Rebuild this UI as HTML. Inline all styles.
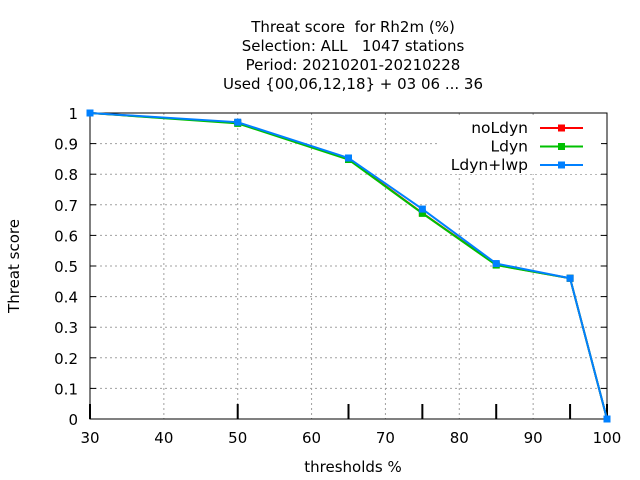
<!DOCTYPE html>
<html><head><meta charset="utf-8"><style>
body{margin:0;background:#fff}
svg{display:block;font-family:"DejaVu Sans","Liberation Sans",sans-serif}
text{white-space:pre}
</style></head><body>
<svg width="640" height="480">
<g font-size="15" text-anchor="middle" fill="#000">
<text x="353" y="32" xml:space="preserve">Threat score  for Rh2m (%)</text>
<text x="353" y="51" xml:space="preserve">Selection: ALL   1047 stations</text>
<text x="353" y="70">Period: 20210201-20210228</text>
<text x="353" y="89">Used {00,06,12,18} + 03 06 ... 36</text>
</g>
<g id="grid"></g>
<rect x="440" y="116" width="165" height="58" fill="#fff"/>
<g id="axes"></g>
<g id="series"></g>
<g id="legend"></g>
<text x="353" y="472" font-size="15" text-anchor="middle">thresholds %</text>
<text x="19" y="266" font-size="15" text-anchor="middle" transform="rotate(-90 19 266)">Threat score</text>
</svg>
<script>
const thresholds=[30,50,65,75,85,95,100];
const noLdyn=[1,0.968,0.85,0.673,0.504,0.46,0];
const ldyn=[1,0.966,0.848,0.672,0.503,0.46,0];
const ldynLwp=[1,0.97,0.853,0.686,0.508,0.46,0];
const xTicks=[30,40,50,60,70,80,90,100];
const yTicks=[0,0.1,0.2,0.3,0.4,0.5,0.6,0.7,0.8,0.9,1];
const seriesNames=["noLdyn","Ldyn","Ldyn+lwp"];
const L=90,R=607,T=113,B=419;
const X=v=>L+(v-30)/70*(R-L), Y=v=>B-v*(B-T);
const NS="http://www.w3.org/2000/svg";
function mk(p,t,a){const e=document.createElementNS(NS,t);for(const k in a)e.setAttribute(k,a[k]);p.appendChild(e);return e;}
const grid=document.getElementById('grid'),axes=document.getElementById('axes');
xTicks.forEach(v=>{
 if(v>30&&v<100){const g=mk(grid,'line',{x1:X(v),x2:X(v),y1:T,y2:B,stroke:'#a0a0a0','stroke-dasharray':'2,3','stroke-width':1});
 }
 const t=mk(axes,'text',{x:X(v),y:B+24,'font-size':15,'text-anchor':'middle'});t.textContent=v;
 
});
yTicks.forEach(v=>{
 if(v>0&&v<1){const g=mk(grid,'line',{x1:L,x2:R,y1:Y(v),y2:Y(v),stroke:'#a0a0a0','stroke-dasharray':'2,3','stroke-width':1});
 }
 mk(axes,'line',{x1:L,x2:L+6,y1:Y(v),y2:Y(v),stroke:'#000'});
 mk(axes,'line',{x1:R,x2:R-6,y1:Y(v),y2:Y(v),stroke:'#000'});
 const t=mk(axes,'text',{x:L-12,y:Y(v)+6,'font-size':15,'text-anchor':'end'});t.textContent=v;
 
});
thresholds.forEach(v=>{mk(axes,'line',{x1:X(v),x2:X(v),y1:B,y2:B-15,stroke:'#000','stroke-width':2});});
const f=mk(axes,'rect',{x:L,y:T,width:R-L,height:B-T,fill:'none',stroke:'#000'});

const data=[noLdyn,ldyn,ldynLwp],cols=['#ff0000','#00c000','#0080ff'];
const ser=document.getElementById('series'),leg=document.getElementById('legend');
data.forEach((d,i)=>{
 const pl=mk(ser,'polyline',{points:d.map((v,j)=>X(thresholds[j])+','+Y(v)).join(' '),fill:'none',stroke:cols[i],'stroke-width':2});
 
 
 d.forEach((v,j)=>{const p=mk(ser,'rect',{x:X(thresholds[j])-3.5,y:Y(v)-3.5,width:7,height:7,fill:cols[i]});
  });
 const y=128+i*18.5;
 const t=mk(leg,'text',{x:528,y:y+5,'font-size':15.5,'text-anchor':'end'});t.textContent=seriesNames[i];
 
 mk(leg,'line',{x1:540,x2:583,y1:y,y2:y,stroke:cols[i],'stroke-width':2});
 mk(leg,'rect',{x:558,y:y-3.5,width:7,height:7,fill:cols[i]});
});
</script>
</body></html>
